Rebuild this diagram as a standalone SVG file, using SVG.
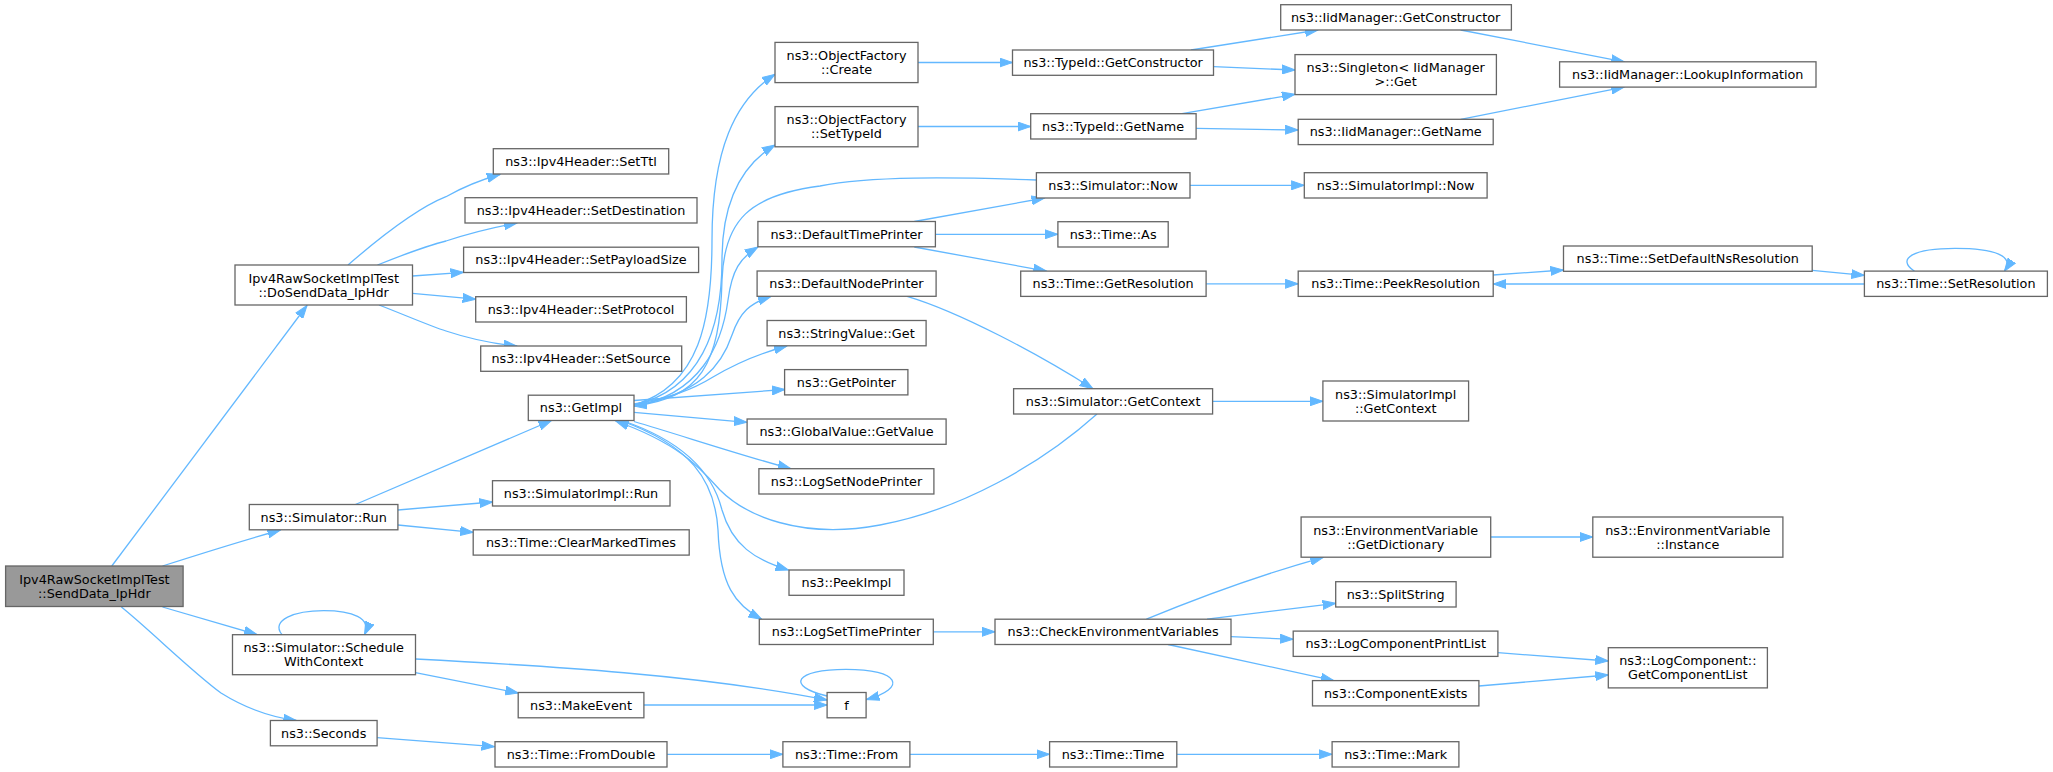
<svg xmlns="http://www.w3.org/2000/svg" width="2053" height="772" viewBox="0 0 2053 772">
<style>
.n rect{fill:#fff;stroke:#666;stroke-width:1.3}
.r rect{fill:#999;stroke:#666;stroke-width:1.3}
text{font-family:"DejaVu Sans","Liberation Sans",sans-serif;font-size:12.8px;text-anchor:middle;fill:#000}
.e path{fill:none;stroke:#63b8ff;stroke-width:1.3;marker-end:url(#a)}
</style>
<defs>
<marker id="a" markerWidth="14" markerHeight="10" refX="13" refY="5" orient="auto" markerUnits="userSpaceOnUse"><path d="M0,0.5 L13,5 L0,9.5 z" fill="#63b8ff" stroke="#63b8ff" stroke-width="1"/></marker>
</defs>
<rect width="2053" height="772" fill="#fff"/>
<g id="edges" class="e">
<path d="M111.8,566 L307,305.5"/>
<path d="M162.5,566 C200,554 245,540 280.5,530"/>
<path d="M162.5,607 L257,634.5"/>
<path d="M121.4,607 C150,630 190,670 221,693 C245,708 270,717 296.4,720.5"/>
<path d="M348,265 C385,233 420,207 446,196.7 C465,186 480,180 500,174.5"/>
<path d="M377.5,265 C405,254 430,245 446,241 C470,233 495,227 517,223"/>
<path d="M412.5,276 L463.6,272.3"/>
<path d="M412.5,293.3 L475.7,299.2"/>
<path d="M379,305 C405,315 430,326 446,331 C470,339 495,344 517,346"/>
<path d="M355.4,504.5 L551.4,420.5"/>
<path d="M397.9,510 L492.5,502"/>
<path d="M397.9,525 L473.2,532.3"/>
<path d="M282,634.7 C270,620 295,610.7 323.7,610.7 C352,610.7 372,618 364.5,634.7"/>
<path d="M415.4,659 C550,666 700,675 827,700"/>
<path d="M415.4,672.7 L518.2,693"/>
<path d="M377.1,737.7 L494.6,746.7"/>
<path d="M643.9,705 L827.1,705"/>
<path d="M827,696 C785,686 795,669.3 846,669.3 C900,669.3 908,688 866.4,699.5"/>
<path d="M667.1,754.3 L782.9,754.3"/>
<path d="M910,754.3 L1049.6,754.3"/>
<path d="M1176.8,754.3 L1332.1,754.3"/>
<path d="M634,405 C700,385 712,320 712,240 C712,150 735,100 775,74.3"/>
<path d="M634,405 C700,390 722,330 722,260 C722,200 742,165 775,145"/>
<path d="M1036.4,180 C950,177 870,176 820,186 C750,195 724,220 722,280 C720,365 700,398 634,406"/>
<path d="M634,406 C700,395 722,345 728,300 C732,270 740,258 757.9,247"/>
<path d="M634,406 C700,394 722,365 732,335 C740,312 750,303 771,296.5"/>
<path d="M634,404 C670,398 692,390 713,377 C735,364 757,354 787,346"/>
<path d="M634,400.5 L785,389.5"/>
<path d="M634,412.3 L747,422.3"/>
<path d="M634,421.5 C680,435 740,455 790.7,468.7"/>
<path d="M622,420.5 C680,440 712,470 722,510 C732,545 755,560 788.5,570"/>
<path d="M620,420.5 C690,445 715,480 718,530 C720,585 735,605 761.7,619.2"/>
<path d="M1097,414 C1040,465 960,510 880,525 C800,540 745,515 720,490 C700,468 680,444 615.7,421"/>
<path d="M918,62.5 L1012.5,62.5"/>
<path d="M918,126.5 L1030.7,126.5"/>
<path d="M1191,50 L1318,30"/>
<path d="M1213.6,66.7 L1295,70"/>
<path d="M1182,113.7 L1295,94.3"/>
<path d="M1196.1,128.3 L1298.2,130"/>
<path d="M1460.7,30 L1624.2,61.8"/>
<path d="M1460.7,119.3 L1624.2,87.1"/>
<path d="M914.3,221.5 L1044.6,198"/>
<path d="M935.4,234.3 L1057.9,234.3"/>
<path d="M914.3,247 L1046.4,271.1"/>
<path d="M1190,185.3 L1304.3,185.3"/>
<path d="M1206.1,283.8 L1298.2,283.8"/>
<path d="M1493.2,275 L1563.5,270"/>
<path d="M1812.2,270.3 L1864.4,275.3"/>
<path d="M1864.4,284 L1493.2,284"/>
<path d="M1914.5,271.3 C1895,258 1915,248.3 1955,248.3 C1995,248.3 2015,256 2004.4,271.3"/>
<path d="M907.1,296.3 C960,312 1040,355 1092.9,388.7"/>
<path d="M1212.5,401.3 L1322.9,401.3"/>
<path d="M933.3,631.8 L995,631.8"/>
<path d="M1146.4,619.2 C1200,597 1260,575 1323.2,557.3"/>
<path d="M1207,619.2 L1335.7,603.3"/>
<path d="M1231,636.7 L1293.2,639.3"/>
<path d="M1168,644.5 L1333.9,680.6"/>
<path d="M1490.7,537 L1592.8,537"/>
<path d="M1497.9,652.7 L1608.3,661"/>
<path d="M1478.9,686 L1608.3,675"/>
</g>
<g id="n1" class="r"><rect x="5.6" y="566" width="177.5" height="40.5"/><text x="94.4" y="583.8">Ipv4RawSocketImplTest</text><text x="94.4" y="597.8">::SendData_IpHdr</text></g>
<g id="n2" class="n"><rect x="235" y="265" width="177.5" height="40"/><text x="323.7" y="282.5">Ipv4RawSocketImplTest</text><text x="323.7" y="296.5">::DoSendData_IpHdr</text></g>
<g id="n3" class="n"><rect x="493.3" y="148.7" width="175.4" height="25.3"/><text x="581" y="165.8">ns3::Ipv4Header::SetTtl</text></g>
<g id="n4" class="n"><rect x="465" y="197.7" width="232" height="25.3"/><text x="581" y="214.8">ns3::Ipv4Header::SetDestination</text></g>
<g id="n5" class="n"><rect x="463.6" y="247.2" width="235" height="25.3"/><text x="581" y="264.3">ns3::Ipv4Header::SetPayloadSize</text></g>
<g id="n6" class="n"><rect x="475.7" y="296.7" width="210.7" height="25.3"/><text x="581" y="313.8">ns3::Ipv4Header::SetProtocol</text></g>
<g id="n7" class="n"><rect x="480.7" y="346" width="201" height="25.3"/><text x="581" y="363.1">ns3::Ipv4Header::SetSource</text></g>
<g id="n8" class="n"><rect x="249.3" y="504.5" width="148.6" height="25.3"/><text x="323.7" y="521.6">ns3::Simulator::Run</text></g>
<g id="n9" class="n"><rect x="232.5" y="634.7" width="183" height="40"/><text x="323.7" y="652.2">ns3::Simulator::Schedule</text><text x="323.7" y="666.2">WithContext</text></g>
<g id="n10" class="n"><rect x="270.4" y="720.5" width="106.7" height="25.3"/><text x="323.7" y="737.6">ns3::Seconds</text></g>
<g id="n11" class="n"><rect x="528.3" y="395.2" width="105.7" height="25.3"/><text x="581" y="412.3">ns3::GetImpl</text></g>
<g id="n12" class="n"><rect x="492.5" y="480.7" width="177.5" height="25.3"/><text x="581" y="497.8">ns3::SimulatorImpl::Run</text></g>
<g id="n13" class="n"><rect x="473.2" y="529.8" width="216" height="25.3"/><text x="581" y="546.9">ns3::Time::ClearMarkedTimes</text></g>
<g id="n14" class="n"><rect x="518.2" y="692.5" width="125.7" height="25.3"/><text x="581" y="709.6">ns3::MakeEvent</text></g>
<g id="n15" class="n"><rect x="495" y="741.7" width="172" height="25.3"/><text x="581" y="758.8">ns3::Time::FromDouble</text></g>
<g id="n16" class="n"><rect x="775" y="42.4" width="143" height="40.2"/><text x="846.5" y="60">ns3::ObjectFactory</text><text x="846.5" y="74">::Create</text></g>
<g id="n17" class="n"><rect x="775" y="106.6" width="143" height="40.2"/><text x="846.5" y="124.2">ns3::ObjectFactory</text><text x="846.5" y="138.2">::SetTypeId</text></g>
<g id="n18" class="n"><rect x="757.9" y="221.5" width="177.5" height="25.3"/><text x="846.5" y="238.6">ns3::DefaultTimePrinter</text></g>
<g id="n19" class="n"><rect x="757.1" y="271" width="179" height="25.3"/><text x="846.5" y="288.1">ns3::DefaultNodePrinter</text></g>
<g id="n20" class="n"><rect x="767.1" y="320.5" width="159" height="25.3"/><text x="846.5" y="337.6">ns3::StringValue::Get</text></g>
<g id="n21" class="n"><rect x="784.6" y="369.6" width="123.3" height="25.3"/><text x="846.5" y="386.7">ns3::GetPointer</text></g>
<g id="n22" class="n"><rect x="747.1" y="419" width="199" height="25.3"/><text x="846.5" y="436.1">ns3::GlobalValue::GetValue</text></g>
<g id="n23" class="n"><rect x="758.9" y="468.7" width="175" height="25.3"/><text x="846.5" y="485.8">ns3::LogSetNodePrinter</text></g>
<g id="n24" class="n"><rect x="789" y="570" width="115" height="25.3"/><text x="846.5" y="587.1">ns3::PeekImpl</text></g>
<g id="n25" class="n"><rect x="759.3" y="619.2" width="174" height="25.3"/><text x="846.5" y="636.3">ns3::LogSetTimePrinter</text></g>
<g id="n26" class="n"><rect x="827.1" y="692.5" width="39" height="25.3"/><text x="846.5" y="709.6">f</text></g>
<g id="n27" class="n"><rect x="782.9" y="741.7" width="127" height="25.3"/><text x="846.5" y="758.8">ns3::Time::From</text></g>
<g id="n28" class="n"><rect x="1012.5" y="50" width="201" height="25.3"/><text x="1113.1" y="67.1">ns3::TypeId::GetConstructor</text></g>
<g id="n29" class="n"><rect x="1030.7" y="113.7" width="165.4" height="25.3"/><text x="1113.1" y="130.8">ns3::TypeId::GetName</text></g>
<g id="n30" class="n"><rect x="1036.4" y="172.7" width="153.6" height="25.3"/><text x="1113.1" y="189.8">ns3::Simulator::Now</text></g>
<g id="n31" class="n"><rect x="1057.9" y="221.7" width="110.3" height="25.3"/><text x="1113.1" y="238.8">ns3::Time::As</text></g>
<g id="n32" class="n"><rect x="1020.7" y="271.1" width="185.4" height="25.3"/><text x="1113.1" y="288.2">ns3::Time::GetResolution</text></g>
<g id="n33" class="n"><rect x="1013.6" y="388.7" width="199" height="25.3"/><text x="1113.1" y="405.8">ns3::Simulator::GetContext</text></g>
<g id="n34" class="n"><rect x="995" y="619.2" width="236" height="25.3"/><text x="1113.1" y="636.3">ns3::CheckEnvironmentVariables</text></g>
<g id="n35" class="n"><rect x="1049.6" y="741.7" width="127.2" height="25.3"/><text x="1113.1" y="758.8">ns3::Time::Time</text></g>
<g id="n36" class="n"><rect x="1280.7" y="4.7" width="230.7" height="25.3"/><text x="1395.7" y="21.8">ns3::IidManager::GetConstructor</text></g>
<g id="n37" class="n"><rect x="1295" y="54.6" width="201.4" height="40"/><text x="1395.7" y="72.1">ns3::Singleton&lt; IidManager</text><text x="1395.7" y="86.1">&gt;::Get</text></g>
<g id="n38" class="n"><rect x="1298.2" y="119.3" width="195" height="25.3"/><text x="1395.7" y="136.4">ns3::IidManager::GetName</text></g>
<g id="n39" class="n"><rect x="1304.3" y="172.7" width="182.8" height="25.3"/><text x="1395.7" y="189.8">ns3::SimulatorImpl::Now</text></g>
<g id="n40" class="n"><rect x="1298.2" y="271.1" width="195" height="25.3"/><text x="1395.7" y="288.2">ns3::Time::PeekResolution</text></g>
<g id="n41" class="n"><rect x="1322.9" y="381" width="145.7" height="40"/><text x="1395.7" y="398.5">ns3::SimulatorImpl</text><text x="1395.7" y="412.5">::GetContext</text></g>
<g id="n42" class="n"><rect x="1301.1" y="517" width="189.6" height="40.2"/><text x="1395.7" y="534.6">ns3::EnvironmentVariable</text><text x="1395.7" y="548.6">::GetDictionary</text></g>
<g id="n43" class="n"><rect x="1335.7" y="581.7" width="120.4" height="25.3"/><text x="1395.7" y="598.8">ns3::SplitString</text></g>
<g id="n44" class="n"><rect x="1293.2" y="631.1" width="204.7" height="25.3"/><text x="1395.7" y="648.2">ns3::LogComponentPrintList</text></g>
<g id="n45" class="n"><rect x="1312.5" y="680.6" width="166.4" height="25.3"/><text x="1395.7" y="697.7">ns3::ComponentExists</text></g>
<g id="n46" class="n"><rect x="1332.1" y="741.7" width="126.8" height="25.3"/><text x="1395.7" y="758.8">ns3::Time::Mark</text></g>
<g id="n47" class="n"><rect x="1559.6" y="61.8" width="256.4" height="25.3"/><text x="1687.8" y="78.9">ns3::IidManager::LookupInformation</text></g>
<g id="n48" class="n"><rect x="1563.5" y="246" width="248.7" height="25.3"/><text x="1687.8" y="263.1">ns3::Time::SetDefaultNsResolution</text></g>
<g id="n49" class="n"><rect x="1864.4" y="271.1" width="183" height="25.3"/><text x="1955.9" y="288.2">ns3::Time::SetResolution</text></g>
<g id="n50" class="n"><rect x="1592.8" y="517" width="190.1" height="40.2"/><text x="1687.8" y="534.6">ns3::EnvironmentVariable</text><text x="1687.8" y="548.6">::Instance</text></g>
<g id="n51" class="n"><rect x="1608.3" y="647.7" width="159.1" height="40.2"/><text x="1687.8" y="665.3">ns3::LogComponent::</text><text x="1687.8" y="679.3">GetComponentList</text></g>
</svg>
